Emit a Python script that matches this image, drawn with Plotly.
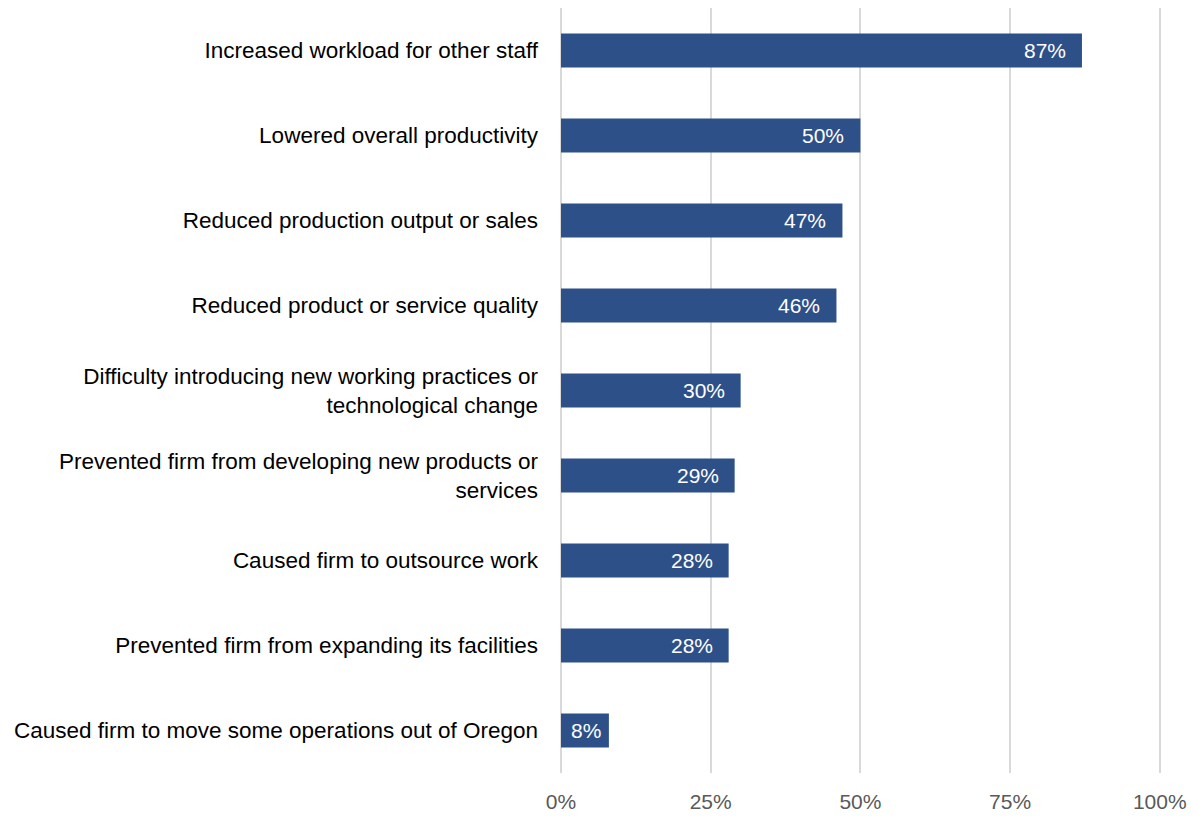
import plotly.graph_objects as go

# Survey results: impacts of unfilled positions (share of firms)
categories = [
    "Increased workload for other staff",
    "Lowered overall productivity",
    "Reduced production output or sales",
    "Reduced product or service quality",
    "Difficulty introducing new working practices or<br>technological change",
    "Prevented firm from developing new products or<br>services",
    "Caused firm to outsource work",
    "Prevented firm from expanding its facilities",
    "Caused firm to move some operations out of Oregon",
]
values = [0.87, 0.50, 0.47, 0.46, 0.30, 0.29, 0.28, 0.28, 0.08]
x_ticks = [0, 0.25, 0.5, 0.75, 1.0]
x_tick_labels = ["0%", "25%", "50%", "75%", "100%"]

FONT = "Liberation Sans, Arial, sans-serif"
BAR_COLOR = "#2E5089"
GRID = "#D9D9D9"

fig = go.Figure(
    go.Bar(
        x=values,
        y=categories,
        orientation="h",
        marker=dict(color=BAR_COLOR, line=dict(width=0)),
        hoverinfo="skip",
    )
)

# value labels placed just inside the end of each bar
for cat, v in zip(categories, values):
    fig.add_annotation(
        x=v, y=cat, xref="x", yref="y",
        text=f"{v:.0%}",
        showarrow=False,
        xanchor="right",
        xshift=-14 if v > 0.15 else -6,
        font=dict(family=FONT, size=21, color="white"),
    )

fig.update_layout(
    width=1199,
    height=816,
    margin=dict(l=561, r=38, t=8, b=43),
    paper_bgcolor="white",
    plot_bgcolor="white",
    bargap=0.6,
    showlegend=False,
    font=dict(family=FONT, size=20, color="#000000"),
)

fig.update_xaxes(
    range=[0, 1.002],
    tickvals=x_ticks,
    ticktext=x_tick_labels,
    showgrid=True,
    gridcolor=GRID,
    gridwidth=2,
    zeroline=True,
    zerolinecolor=GRID,
    zerolinewidth=2,
    showline=False,
    tickfont=dict(family=FONT, size=21, color="#595959"),
    ticklabelstandoff=14,
    automargin=False,
    fixedrange=True,
)

fig.update_yaxes(
    categoryorder="array",
    categoryarray=categories[::-1],
    showgrid=False,
    zeroline=False,
    showline=False,
    tickfont=dict(family=FONT, size=22.5, color="#000000"),
    ticklabelstandoff=22,
    automargin=False,
    fixedrange=True,
)

fig.write_html("out.html")
